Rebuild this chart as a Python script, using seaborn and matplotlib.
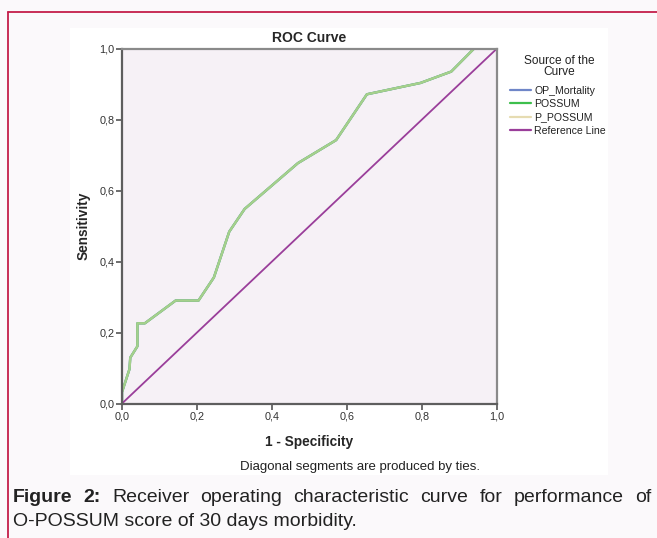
import numpy as np
import pandas as pd
import matplotlib
matplotlib.use("Agg")
import matplotlib.pyplot as plt
import seaborn as sns
from matplotlib.lines import Line2D
from matplotlib.patches import Rectangle

# ---------------- data ----------------
fpr = [0.0, 0.0, 0.020, 0.022, 0.041, 0.041, 0.061, 0.143, 0.204, 0.245,
       0.286, 0.327, 0.469, 0.571, 0.653, 0.796, 0.878, 0.939, 1.0]
tpr = [0.0, 0.032, 0.097, 0.129, 0.161, 0.226, 0.226, 0.290, 0.290, 0.355,
       0.484, 0.548, 0.677, 0.742, 0.871, 0.903, 0.935, 1.0, 1.0]
sources = ["OP_Mortality", "POSSUM", "P_POSSUM"]
ref_x = [0.0, 1.0]
ref_y = [0.0, 1.0]
tick_values = [0.0, 0.2, 0.4, 0.6, 0.8, 1.0]
tick_labels = ["0,0", "0,2", "0,4", "0,6", "0,8", "1,0"]
colors = {"OP_Mortality": "#6f86c8", "POSSUM": "#3dbf4c",
          "P_POSSUM": "#e6dcb2", "Reference Line": "#9a3e9a"}

rows = []
for s in sources:
    for x, y in zip(fpr, tpr):
        rows.append({"fpr": x, "tpr": y, "source": s})
df = pd.DataFrame(rows)
ref_df = pd.DataFrame({"fpr": ref_x, "tpr": ref_y})

# ---------------- style ----------------
sns.set_style("ticks")
plt.rcParams["font.family"] = ["Liberation Sans", "DejaVu Sans"]

W, H = 657, 538
fig = plt.figure(figsize=(W / 100, H / 100), dpi=100)
fig.patch.set_facecolor("#fbf9fb")

def fx(px):
    return px / W

def fy(py):
    return 1 - py / H

# white inner panel
fig.add_artist(Rectangle((fx(70), fy(475)), fx(608) - fx(70), fy(28) - fy(475),
                         transform=fig.transFigure, facecolor="white",
                         edgecolor="none", zorder=0))
# red border (left and top)
fig.add_artist(Line2D([fx(8), fx(8)], [fy(12), 0], transform=fig.transFigure,
                      color="#c41e4a", lw=1.3))
fig.add_artist(Line2D([fx(8), 1], [fy(12), fy(12)], transform=fig.transFigure,
                      color="#c41e4a", lw=1.3))

ax = fig.add_axes([fx(122), fy(403.5), fx(497) - fx(122), fy(48.5) - fy(403.5)])
ax.set_facecolor("#f6f1f6")

alphas = {"OP_Mortality": 1.0, "POSSUM": 1.0, "P_POSSUM": 0.62}
for s in sources:
    sns.lineplot(data=df[df["source"] == s], x="fpr", y="tpr", ax=ax,
                 color=colors[s], lw=1.7, alpha=alphas[s], sort=False,
                 estimator=None, legend=False)
sns.lineplot(data=ref_df, x="fpr", y="tpr", ax=ax, color=colors["Reference Line"],
             lw=1.3, sort=False, estimator=None, legend=False)

ax.set_xlim(0, 1)
ax.set_ylim(0, 1)
ax.set_xticks(tick_values)
ax.set_xticklabels(tick_labels)
ax.set_yticks(tick_values)
ax.set_yticklabels(tick_labels)
ax.tick_params(axis="both", labelsize=7.8, length=4, width=1.2, color="#555555",
               labelcolor="#333333", pad=1.5, direction="out")
for side in ["left", "bottom"]:
    ax.spines[side].set_color("#5e5e5e")
    ax.spines[side].set_linewidth(1.6)
for side in ["top", "right"]:
    ax.spines[side].set_visible(True)
    ax.spines[side].set_color("#8a8a8a")
    ax.spines[side].set_linewidth(1.6)

ax.set_xlabel("1 - Specificity", fontsize=9.8, fontweight="bold", labelpad=10)
ax.set_ylabel("Sensitivity", fontsize=9.8, fontweight="bold", labelpad=6)
ax.set_title("ROC Curve", fontsize=10, fontweight="bold", pad=5)

# legend title as centered text
fig.text(fx(559), fy(66.5), "Source of the\nCurve", fontsize=8.6, ha="center",
         va="center", multialignment="center", linespacing=0.95, color="#222222")
handles = [Line2D([0], [0], color=colors[k], lw=1.6)
           for k in sources + ["Reference Line"]]
leg = fig.legend(handles, sources + ["Reference Line"], loc="upper left",
                 bbox_to_anchor=(fx(510), fy(86)), frameon=False,
                 fontsize=7.6, handlelength=2.0, handletextpad=0.3,
                 labelspacing=0.3, borderaxespad=0, borderpad=0)
for t in leg.get_texts():
    t.set_color("#222222")

fig.text(fx(360), fy(467), "Diagonal segments are produced by ties.",
         fontsize=9.5, ha="center", va="center", color="#222222")

# caption
cap_size = 14
fig.canvas.draw()
renderer = fig.canvas.get_renderer()
line1_words = [("Figure", True), ("2:", True), ("Receiver", False),
               ("operating", False), ("characteristic", False), ("curve", False),
               ("for", False), ("performance", False), ("of", False)]
x_left, x_right = 13, 651
texts = []
for w, b in line1_words:
    t = fig.text(0, fy(498), w, fontsize=cap_size,
                 fontweight="bold" if b else "normal", va="center", ha="left",
                 color="#222222")
    texts.append(t)
widths = [t.get_window_extent(renderer).width for t in texts]
gap = (x_right - x_left - sum(widths)) / (len(texts) - 1)
cur = x_left
for t, w in zip(texts, widths):
    t.set_x(fx(cur))
    cur += w + gap
fig.text(fx(x_left), fy(521), "O-POSSUM score of 30 days morbidity.",
         fontsize=cap_size, va="center", ha="left", color="#222222")

fig.savefig("out.png", dpi=100, facecolor=fig.get_facecolor())
